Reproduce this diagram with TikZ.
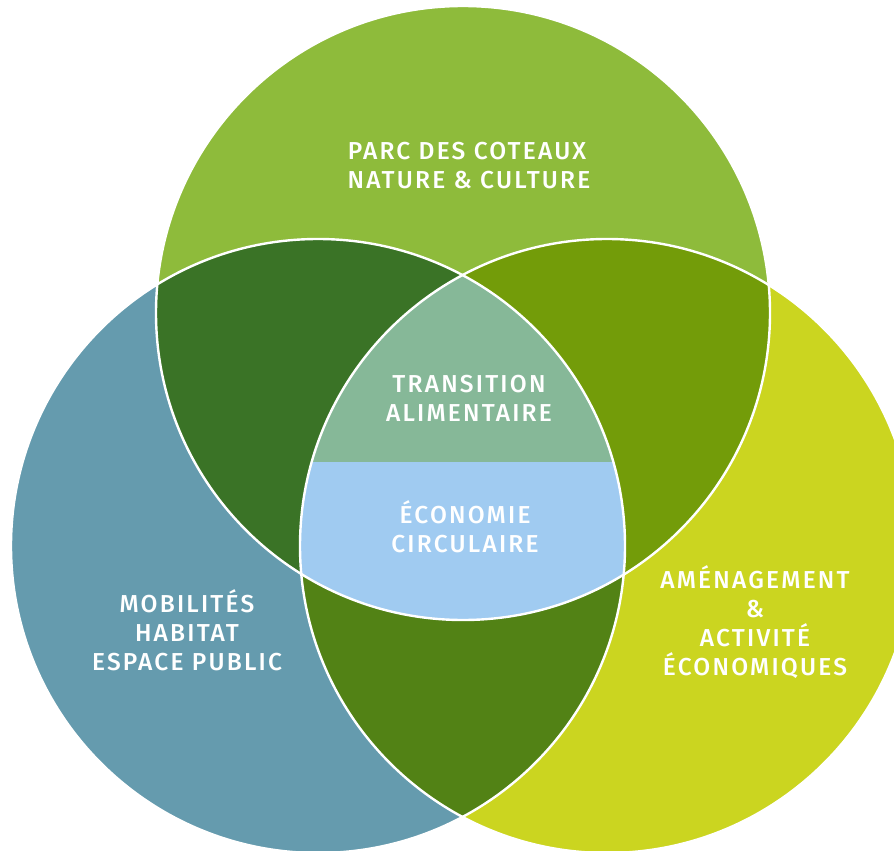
\documentclass[tikz,border=0pt]{standalone}
\usepackage{fontspec}
\setmainfont{Fira Sans}[BoldFont={* Medium}, LetterSpace=9]
\definecolor{cTop}{HTML}{8EBB3B}
\definecolor{cLeft}{HTML}{659BAE}
\definecolor{cRight}{HTML}{CBD520}
\definecolor{cTL}{HTML}{3A7326}
\definecolor{cTR}{HTML}{739C09}
\definecolor{cLR}{HTML}{528215}
\definecolor{cSage}{HTML}{86B898}
\definecolor{cBlue}{HTML}{A0CBF1}
\tikzset{
  lbl/.style={text=white, font=\bfseries\fontsize{24.5}{29}\selectfont, align=center, inner sep=0pt},
  rim/.style={draw=white, line width=2.4pt}
}
\begin{document}
\begin{tikzpicture}[x=1pt,y=-1pt]
\useasboundingbox (0,0) rectangle (894,851);
\clip (0,0) rectangle (894,851);
\def\R{307}
\coordinate (T) at (463,313);
\coordinate (L) at (318,546);
\coordinate (Rc) at (607,546);
% base circles
\fill[cTop] (T) circle (\R);
\fill[cLeft] (L) circle (\R);
\fill[cRight] (Rc) circle (\R);
% pairwise overlaps
\begin{scope}\clip (T) circle (\R); \fill[cTL] (L) circle (\R); \end{scope}
\begin{scope}\clip (T) circle (\R); \fill[cTR] (Rc) circle (\R); \end{scope}
\begin{scope}\clip (L) circle (\R); \fill[cLR] (Rc) circle (\R); \end{scope}
% centre
\begin{scope}
  \clip (T) circle (\R);
  \clip (L) circle (\R);
  \clip (Rc) circle (\R);
  \fill[cSage] (0,0) rectangle (894,462);
  \fill[cBlue] (0,462) rectangle (894,851);
\end{scope}
% white rims
\draw[rim] (T) circle (\R);
\draw[rim] (L) circle (\R);
\draw[rim] (Rc) circle (\R);
% labels
\node[lbl] (parc) at (467,166) {PARC DES COTEAUX\\\,NATURE \& CULTURE};
\node[lbl] (trans) at (469,398) {TRANSITION\\ALIMENTAIRE};
\node[lbl] (eco) at (465,527) {ÉCONOMIE\\CIRCULAIRE};
\node[lbl] (mob) at (187,630) {MOBILITÉS\\HABITAT\\ESPACE PUBLIC};
\node[lbl] (amen) at (755,622) {AMÉNAGEMENT\\\&\\ACTIVITÉ\\ÉCONOMIQUES};
\end{tikzpicture}
\end{document}
